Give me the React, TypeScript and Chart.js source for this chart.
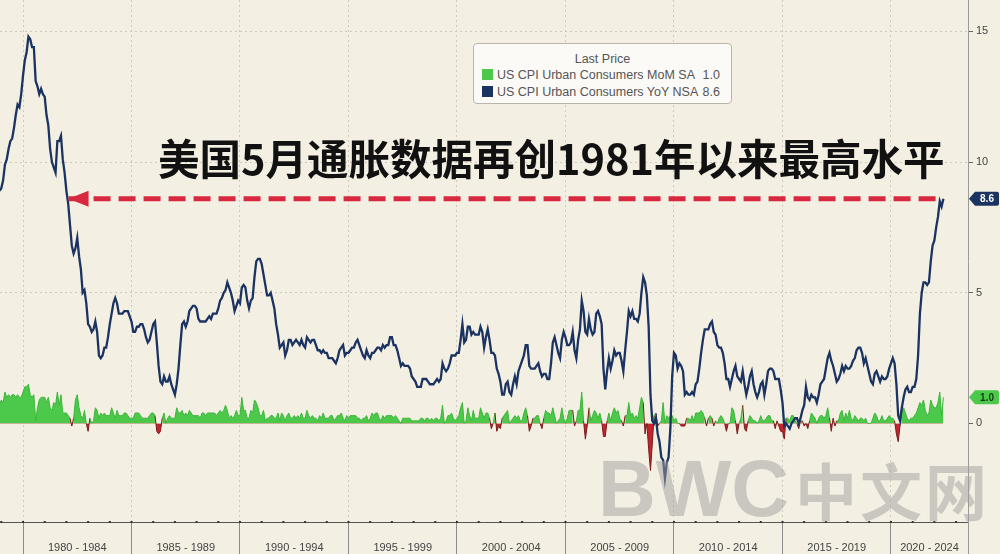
import React, { useEffect, useRef } from "react";
import { Chart, registerables } from "chart.js";

Chart.register(...registerables);

// First observation: November 1978 (values are monthly, month-end)
const FIRST_YEAR = 1978;
const FIRST_MONTH = 11;

// US CPI Urban Consumers YoY NSA (%)
const YOY_NSA: number[] = [
  // 1978 (Nov-Dec)
  8.9, 9.0,
  // 1979
  9.3, 9.9, 10.1, 10.5, 10.8, 10.9, 11.3, 11.8, 12.2, 12.1, 12.6, 13.3,
  // 1980
  13.9, 14.2, 14.8, 14.7, 14.4, 14.4, 13.1, 12.9, 12.6, 12.8, 12.6, 12.5,
  // 1981
  11.8, 11.4, 10.5, 10.0, 9.8, 9.6, 10.8, 10.8, 11.0, 10.1, 9.6, 8.9,
  // 1982
  8.4, 7.6, 6.8, 6.5, 6.7, 7.1, 6.4, 5.9, 5.0, 5.1, 4.6, 3.8,
  // 1983
  3.7, 3.5, 3.6, 3.9, 3.5, 2.6, 2.5, 2.6, 2.9, 2.9, 3.3, 3.8,
  // 1984
  4.2, 4.6, 4.8, 4.6, 4.2, 4.2, 4.2, 4.3, 4.3, 4.3, 4.1, 3.9,
  // 1985
  3.5, 3.5, 3.7, 3.7, 3.8, 3.8, 3.6, 3.3, 3.1, 3.2, 3.5, 3.8,
  // 1986
  3.9, 3.1, 2.2, 1.6, 1.5, 1.8, 1.6, 1.6, 1.8, 1.5, 1.3, 1.1,
  // 1987
  1.5, 2.1, 3.0, 3.8, 3.9, 3.7, 3.9, 4.3, 4.4, 4.5, 4.5, 4.4,
  // 1988
  4.0, 3.9, 3.9, 3.9, 3.9, 4.0, 4.1, 4.0, 4.2, 4.2, 4.2, 4.4,
  // 1989
  4.7, 4.8, 5.0, 5.1, 5.4, 5.2, 5.0, 4.7, 4.3, 4.5, 4.7, 4.6,
  // 1990
  5.2, 5.3, 5.2, 4.7, 4.4, 4.7, 4.8, 5.6, 6.2, 6.3, 6.3, 6.1,
  // 1991
  5.7, 5.3, 4.9, 4.9, 5.0, 4.7, 4.4, 3.8, 3.4, 2.9, 3.0, 3.1,
  // 1992
  2.6, 2.8, 3.2, 3.2, 3.0, 3.1, 3.2, 3.1, 3.0, 3.2, 3.0, 2.9,
  // 1993
  3.3, 3.2, 3.1, 3.2, 3.2, 3.0, 2.8, 2.8, 2.7, 2.8, 2.7, 2.7,
  // 1994
  2.5, 2.5, 2.5, 2.4, 2.3, 2.5, 2.8, 2.9, 3.0, 2.6, 2.7, 2.7,
  // 1995
  2.8, 2.9, 2.9, 3.1, 3.2, 3.0, 2.8, 2.6, 2.5, 2.8, 2.6, 2.5,
  // 1996
  2.7, 2.7, 2.8, 2.9, 2.9, 2.8, 3.0, 2.9, 3.0, 3.0, 3.3, 3.3,
  // 1997
  3.0, 3.0, 2.8, 2.5, 2.2, 2.3, 2.2, 2.2, 2.2, 2.1, 1.8, 1.7,
  // 1998
  1.6, 1.4, 1.4, 1.4, 1.7, 1.7, 1.7, 1.6, 1.5, 1.5, 1.5, 1.6,
  // 1999
  1.7, 1.6, 1.7, 2.3, 2.1, 2.0, 2.1, 2.3, 2.6, 2.6, 2.6, 2.7,
  // 2000
  2.7, 3.2, 3.8, 3.1, 3.2, 3.7, 3.7, 3.4, 3.5, 3.4, 3.4, 3.4,
  // 2001
  3.7, 3.5, 2.9, 3.3, 3.6, 3.2, 2.7, 2.7, 2.6, 2.1, 1.9, 1.6,
  // 2002
  1.1, 1.1, 1.5, 1.6, 1.2, 1.1, 1.5, 1.8, 1.5, 2.0, 2.2, 2.4,
  // 2003
  2.6, 3.0, 3.0, 2.2, 2.1, 2.1, 2.1, 2.2, 2.3, 2.0, 1.8, 1.9,
  // 2004
  1.9, 1.7, 1.7, 2.3, 3.1, 3.3, 3.0, 2.7, 2.5, 3.2, 3.5, 3.3,
  // 2005
  3.0, 3.0, 3.1, 3.5, 2.8, 2.5, 3.2, 3.6, 4.7, 4.3, 3.5, 3.4,
  // 2006
  4.0, 3.6, 3.4, 3.5, 4.2, 4.3, 4.1, 3.8, 2.1, 1.3, 2.0, 2.5,
  // 2007
  2.1, 2.4, 2.8, 2.6, 2.7, 2.7, 2.4, 2.0, 2.8, 3.5, 4.3, 4.1,
  // 2008
  4.3, 4.0, 4.0, 3.9, 4.2, 5.0, 5.6, 5.4, 4.9, 3.7, 1.1, 0.1,
  // 2009
  0.0, 0.2, -0.4, -0.7, -1.3, -1.4, -2.1, -1.5, -1.3, -0.2, 1.8, 2.7,
  // 2010
  2.6, 2.1, 2.3, 2.2, 2.0, 1.1, 1.2, 1.1, 1.1, 1.2, 1.1, 1.5,
  // 2011
  1.6, 2.1, 2.7, 3.2, 3.6, 3.6, 3.6, 3.8, 3.9, 3.5, 3.4, 3.0,
  // 2012
  2.9, 2.9, 2.7, 2.3, 1.7, 1.7, 1.4, 1.7, 2.0, 2.2, 1.8, 1.7,
  // 2013
  1.6, 2.0, 1.5, 1.1, 1.4, 1.8, 2.0, 1.5, 1.2, 1.0, 1.2, 1.5,
  // 2014
  1.6, 1.1, 1.5, 2.0, 2.1, 2.1, 2.0, 1.7, 1.7, 1.7, 1.3, 0.8,
  // 2015
  -0.1, 0.0, -0.1, -0.2, 0.0, 0.1, 0.2, 0.2, 0.0, 0.2, 0.5, 0.7,
  // 2016
  1.4, 1.0, 0.9, 1.1, 1.0, 1.0, 0.8, 1.1, 1.5, 1.6, 1.7, 2.1,
  // 2017
  2.5, 2.7, 2.4, 2.2, 1.9, 1.6, 1.7, 1.9, 2.2, 2.0, 2.2, 2.1,
  // 2018
  2.1, 2.2, 2.4, 2.5, 2.8, 2.9, 2.9, 2.7, 2.3, 2.5, 2.2, 1.9,
  // 2019
  1.6, 1.5, 1.9, 2.0, 1.8, 1.6, 1.8, 1.7, 1.7, 1.8, 2.1, 2.3,
  // 2020
  2.5, 2.3, 1.5, 0.3, 0.1, 0.6, 1.0, 1.3, 1.4, 1.2, 1.2, 1.4,
  // 2021
  1.4, 1.7, 2.6, 4.2, 5.0, 5.4, 5.4, 5.3, 5.4, 6.2, 6.8, 7.0,
  // 2022 (Jan-May)
  7.5, 7.9, 8.5, 8.3, 8.6,
];

// US CPI Urban Consumers MoM SA (%)
const MOM_SA: number[] = [
  // 1978 (Nov-Dec)
  0.7, 0.9,
  // 1979
  0.8, 1.2, 1.0, 1.1, 1.0, 1.1, 1.1, 1.0, 1.1, 1.0, 1.0, 1.2,
  // 1980
  1.4, 1.4, 1.5, 1.1, 1.0, 1.1, 0.1, 0.6, 0.9, 1.0, 1.0, 1.0,
  // 1981
  0.8, 1.0, 0.6, 0.5, 0.8, 0.7, 1.2, 0.7, 1.1, 0.4, 0.4, 0.4,
  // 1982
  0.3, 0.2, -0.1, 0.2, 0.9, 1.1, 0.6, 0.3, 0.2, 0.5, 0.0, -0.3,
  // 1983
  0.2, 0.0, 0.1, 0.6, 0.5, 0.2, 0.4, 0.3, 0.4, 0.3, 0.3, 0.3,
  // 1984
  0.6, 0.4, 0.2, 0.5, 0.3, 0.3, 0.3, 0.4, 0.4, 0.3, 0.2, 0.2,
  // 1985
  0.2, 0.4, 0.4, 0.4, 0.3, 0.2, 0.2, 0.2, 0.2, 0.3, 0.4, 0.4,
  // 1986
  0.3, -0.3, -0.4, -0.3, 0.2, 0.4, 0.0, 0.2, 0.3, 0.2, 0.2, 0.2,
  // 1987
  0.6, 0.4, 0.4, 0.5, 0.3, 0.4, 0.3, 0.5, 0.4, 0.3, 0.3, 0.3,
  // 1988
  0.3, 0.2, 0.4, 0.4, 0.3, 0.4, 0.4, 0.4, 0.4, 0.4, 0.3, 0.4,
  // 1989
  0.5, 0.4, 0.5, 0.7, 0.5, 0.2, 0.3, 0.2, 0.3, 0.5, 0.3, 0.3,
  // 1990
  1.0, 0.5, 0.5, 0.2, 0.2, 0.5, 0.4, 0.9, 0.8, 0.6, 0.3, 0.3,
  // 1991
  0.5, 0.1, 0.2, 0.2, 0.3, 0.3, 0.2, 0.2, 0.4, 0.1, 0.4, 0.3,
  // 1992
  0.1, 0.3, 0.4, 0.2, 0.2, 0.3, 0.2, 0.3, 0.2, 0.4, 0.2, 0.2,
  // 1993
  0.5, 0.3, 0.2, 0.3, 0.2, 0.2, 0.1, 0.3, 0.2, 0.4, 0.2, 0.2,
  // 1994
  0.2, 0.3, 0.3, 0.1, 0.2, 0.3, 0.3, 0.4, 0.2, 0.1, 0.3, 0.2,
  // 1995
  0.3, 0.3, 0.3, 0.3, 0.2, 0.2, 0.1, 0.2, 0.2, 0.3, 0.1, 0.2,
  // 1996
  0.4, 0.3, 0.4, 0.4, 0.2, 0.1, 0.3, 0.2, 0.3, 0.3, 0.3, 0.3,
  // 1997
  0.2, 0.3, 0.2, 0.1, 0.0, 0.2, 0.2, 0.2, 0.2, 0.2, 0.1, 0.1,
  // 1998
  0.1, 0.1, 0.1, 0.2, 0.2, 0.1, 0.2, 0.2, 0.1, 0.2, 0.1, 0.2,
  // 1999
  0.2, 0.1, 0.2, 0.7, 0.0, 0.1, 0.3, 0.3, 0.4, 0.2, 0.1, 0.2,
  // 2000
  0.3, 0.6, 0.8, 0.0, 0.1, 0.6, 0.3, 0.1, 0.5, 0.2, 0.2, 0.2,
  // 2001
  0.6, 0.4, 0.2, 0.4, 0.4, 0.2, -0.2, 0.0, 0.4, -0.3, -0.1, -0.2,
  // 2002
  0.2, 0.3, 0.4, 0.5, 0.0, 0.1, 0.2, 0.3, 0.2, 0.3, 0.1, 0.1,
  // 2003
  0.4, 0.6, 0.3, -0.3, -0.1, 0.2, 0.2, 0.3, 0.3, 0.0, -0.2, 0.2,
  // 2004
  0.5, 0.4, 0.4, 0.3, 0.6, 0.3, 0.0, 0.1, 0.2, 0.6, 0.2, 0.0,
  // 2005
  0.2, 0.5, 0.5, 0.5, -0.1, 0.1, 0.5, 0.5, 1.2, 0.1, -0.6, -0.1,
  // 2006
  0.6, 0.1, 0.3, 0.5, 0.4, 0.2, 0.4, 0.1, -0.5, -0.5, 0.1, 0.4,
  // 2007
  0.1, 0.4, 0.6, 0.4, 0.5, 0.2, 0.1, -0.1, 0.3, 0.3, 0.8, 0.3,
  // 2008
  0.4, 0.2, 0.3, 0.2, 0.6, 1.0, 0.8, -0.4, 0.0, -1.0, -1.8, -0.8,
  // 2009
  0.3, 0.4, -0.1, 0.0, 0.1, 0.8, 0.0, 0.3, 0.2, 0.3, 0.3, 0.1,
  // 2010
  0.2, 0.0, 0.0, -0.1, -0.1, -0.1, 0.2, 0.2, 0.1, 0.3, 0.1, 0.4,
  // 2011
  0.4, 0.4, 0.5, 0.4, 0.2, -0.1, 0.2, 0.3, 0.2, -0.1, 0.1, 0.0,
  // 2012
  0.2, 0.3, 0.2, 0.0, -0.3, 0.0, 0.0, 0.6, 0.5, 0.1, -0.4, 0.0,
  // 2013
  0.2, 0.7, -0.2, -0.3, 0.1, 0.3, 0.2, 0.1, 0.1, 0.0, 0.1, 0.3,
  // 2014
  0.1, 0.1, 0.2, 0.3, 0.3, 0.1, 0.1, -0.2, 0.1, -0.1, -0.3, -0.3,
  // 2015
  -0.6, 0.2, 0.2, 0.1, 0.3, 0.3, 0.1, 0.0, -0.2, 0.1, 0.1, -0.1,
  // 2016
  0.0, -0.2, 0.1, 0.4, 0.3, 0.2, 0.0, 0.2, 0.3, 0.3, 0.2, 0.3,
  // 2017
  0.6, 0.2, -0.3, 0.2, -0.1, 0.1, 0.1, 0.4, 0.5, 0.1, 0.4, 0.2,
  // 2018
  0.5, 0.2, 0.1, 0.3, 0.2, 0.1, 0.2, 0.2, 0.1, 0.2, 0.0, 0.0,
  // 2019
  0.0, 0.2, 0.4, 0.3, 0.1, 0.1, 0.3, 0.1, 0.1, 0.2, 0.3, 0.2,
  // 2020
  0.2, 0.1, -0.4, -0.7, -0.1, 0.5, 0.6, 0.4, 0.2, 0.1, 0.2, 0.2,
  // 2021
  0.3, 0.4, 0.6, 0.8, 0.7, 0.9, 0.5, 0.3, 0.4, 0.9, 0.7, 0.6,
  // 2022 (Jan-May)
  0.6, 0.8, 1.2, 0.3, 1.0,
];

const PERIOD_STARTS = [1980, 1985, 1990, 1995, 2000, 2005, 2010, 2015, 2020];
const Y_TICKS = [0, 5, 10, 15];

const X_MIN = 1978.94;
const X_MAX = 2023.55;
const Y_MIN = -3.77;
const Y_MAX = 16.2;

// dashed "same level" arrow
const ARROW_LEVEL = 8.6;
const ARROW_TIP_YEAR = 1982.1;
const ARROW_END_YEAR = 2022.35;

const LEGEND_TITLE = "Last Price";
const SERIES_NAMES = ["US CPI Urban Consumers MoM SA", "US CPI Urban Consumers YoY NSA"];
const HEADLINE = "美国5月通胀数据再创1981年以来最高水平";
const WATERMARK_LATIN = "BWC";
const WATERMARK_CJK = "中文网";

const NAVY = "#1b3361";
const GREEN = "#4cc84a";
const GREEN_LINE = "#3cb53c";
const NEG_RED = "#c3242f";
const ARROW_RED = "#d8283f";
const BG = "#f4efe3";
const GRID = "#cfc9bb";

const toPoints = (values: number[]) =>
  values.map((v, i) => ({ x: FIRST_YEAR + (FIRST_MONTH + i) / 12, y: v }));

const periodLabel = (v: number) => {
  const start = Math.floor(v / 5) * 5;
  return `${start} - ${start + 4}`;
};

const isBoundary = (v: number) => PERIOD_STARTS.includes(v);

const labelCenters = PERIOD_STARTS.map(
  (s) => (Math.max(s, X_MIN) + Math.min(s + 5, X_MAX)) / 2
);

function drawTag(ctx: CanvasRenderingContext2D, left: number, y: number, fill: string, color: string, text: string) {
  const h = 14;
  const tip = left;
  const body = left + 6;
  const right = left + 30;
  ctx.save();
  ctx.fillStyle = fill;
  ctx.beginPath();
  ctx.moveTo(tip, y);
  ctx.lineTo(body, y - h / 2);
  ctx.lineTo(right - 2, y - h / 2);
  ctx.quadraticCurveTo(right, y - h / 2, right, y - h / 2 + 2);
  ctx.lineTo(right, y + h / 2 - 2);
  ctx.quadraticCurveTo(right, y + h / 2, right - 2, y + h / 2);
  ctx.lineTo(body, y + h / 2);
  ctx.closePath();
  ctx.fill();
  ctx.fillStyle = color;
  ctx.font = "bold 10px 'Liberation Sans', sans-serif";
  ctx.textAlign = "center";
  ctx.textBaseline = "middle";
  ctx.fillText(text, (body + right) / 2, y + 0.5);
  ctx.restore();
}

const decorPlugin = {
  id: "decor",
  afterDatasetsDraw(chart: any) {
    const { ctx, scales } = chart;
    const x = scales.x;
    const y = scales.y;
    const tipX = x.getPixelForValue(ARROW_TIP_YEAR);
    const ay = y.getPixelForValue(ARROW_LEVEL);
    ctx.save();
    ctx.fillStyle = ARROW_RED;
    ctx.beginPath();
    ctx.moveTo(tipX, ay);
    ctx.lineTo(tipX + 20, ay - 8);
    ctx.lineTo(tipX + 20, ay + 8);
    ctx.closePath();
    ctx.fill();
    ctx.restore();
  },
  afterDraw(chart: any) {
    const { ctx, scales, chartArea } = chart;
    const x = scales.x;
    const y = scales.y;
    ctx.save();
    ctx.fillStyle = "#333";
    for (let yr = Math.ceil(X_MIN); yr <= X_MAX; yr++) {
      const px = x.getPixelForValue(yr);
      ctx.fillRect(px - 1, chartArea.bottom - 1, 2, 2);
    }
    // right axis line continues to the bottom
    ctx.strokeStyle = "#9a9a9a";
    ctx.lineWidth = 1;
    ctx.beginPath();
    ctx.moveTo(chartArea.right + 0.5, chartArea.bottom);
    ctx.lineTo(chartArea.right + 0.5, chart.height);
    ctx.stroke();
    ctx.restore();
    const lastYoY = YOY_NSA[YOY_NSA.length - 1];
    const lastMoM = MOM_SA[MOM_SA.length - 1];
    drawTag(ctx, chartArea.right + 1, y.getPixelForValue(lastYoY), NAVY, "#ffffff", lastYoY.toFixed(1));
    drawTag(ctx, chartArea.right + 1, y.getPixelForValue(lastMoM), GREEN, "#0f3d12", lastMoM.toFixed(1));
  },
};

export default function App() {
  const canvasRef = useRef<HTMLCanvasElement | null>(null);

  useEffect(() => {
    if (!canvasRef.current) return;
    const chart = new Chart(canvasRef.current, {
      type: "line",
      data: {
        datasets: [
          {
            label: "arrow",
            data: [
              { x: ARROW_TIP_YEAR, y: ARROW_LEVEL },
              { x: ARROW_END_YEAR, y: ARROW_LEVEL },
            ],
            borderColor: ARROW_RED,
            borderWidth: 5,
            borderDash: [17, 8],
            borderCapStyle: "butt",
            pointRadius: 0,
            fill: false,
          },
          {
            label: SERIES_NAMES[1],
            data: toPoints(YOY_NSA),
            borderColor: NAVY,
            borderWidth: 2.3,
            pointRadius: 0,
            tension: 0,
            fill: false,
          },
          {
            label: SERIES_NAMES[0],
            data: toPoints(MOM_SA),
            borderColor: GREEN_LINE,
            borderWidth: 1,
            pointRadius: 0,
            tension: 0,
            fill: { target: "origin", above: GREEN, below: NEG_RED },
            segment: {
              borderColor: (c: any) =>
                c.p0.parsed.y < 0 || c.p1.parsed.y < 0 ? "#7a1a1a" : GREEN_LINE,
            },
          },
        ],
      },
      options: {
        animation: false,
        responsive: false,
        devicePixelRatio: 1,
        events: [],
        layout: { padding: 0 },
        plugins: {
          legend: { display: false },
          tooltip: { enabled: false },
        },
        scales: {
          x: {
            type: "linear",
            position: "bottom",
            min: X_MIN,
            max: X_MAX,
            afterBuildTicks: (s: any) => {
              s.ticks = [...PERIOD_STARTS, ...labelCenters]
                .sort((a, b) => a - b)
                .map((v) => ({ value: v }));
            },
            afterFit: (s: any) => {
              s.height = 32;
              s.paddingLeft = 0;
              s.paddingRight = 0;
            },
            grid: {
              color: (c: any) => (c.tick && isBoundary(c.tick.value) ? GRID : "rgba(0,0,0,0)"),
              tickColor: (c: any) => (c.tick && isBoundary(c.tick.value) ? "#8c8c8c" : "rgba(0,0,0,0)"),
              tickLength: 32,
              tickBorderDash: [],
              lineWidth: 1,
            },
            border: { display: true, color: "#555", width: 1, dash: [2, 3] },
            ticks: {
              autoSkip: false,
              maxRotation: 0,
              minRotation: 0,
              padding: -13,
              color: "#444",
              font: { family: "'Liberation Sans', sans-serif", size: 11 },
              callback: (v: any) => (isBoundary(Number(v)) ? "" : periodLabel(Number(v))),
            },
          },
          y: {
            type: "linear",
            position: "right",
            min: Y_MIN,
            max: Y_MAX,
            afterBuildTicks: (s: any) => {
              s.ticks = Y_TICKS.map((v) => ({ value: v }));
            },
            afterFit: (s: any) => {
              s.width = 32;
              s.paddingTop = 0;
              s.paddingBottom = 0;
            },
            grid: {
              color: (c: any) => (c.tick && c.tick.value !== 0 ? GRID : "rgba(0,0,0,0)"),
              tickColor: "#666",
              tickLength: 5,
              tickBorderDash: [],
            },
            border: { display: true, color: "#9a9a9a", width: 1, dash: [2, 3] },
            ticks: {
              padding: 3,
              color: "#444",
              font: { family: "'Liberation Sans', sans-serif", size: 11 },
              callback: (v: any) => String(v),
            },
          },
        },
      },
      plugins: [decorPlugin],
    } as any);
    return () => chart.destroy();
  }, []);

  const lastMoM = MOM_SA[MOM_SA.length - 1];
  const lastYoY = YOY_NSA[YOY_NSA.length - 1];

  return (
    <div
      style={{
        position: "absolute",
        left: 0,
        top: 0,
        width: 1000,
        height: 554,
        background: BG,
        overflow: "hidden",
      }}
    >
      <canvas ref={canvasRef} width={1000} height={554} style={{ display: "block", position: "absolute", left: 0, top: 0 }} />
      <div
        style={{
          position: "absolute",
          left: 473,
          top: 43,
          width: 259,
          height: 61,
          boxSizing: "border-box",
          background: "#fbfaf6",
          border: "1px solid #b9b5ab",
          borderRadius: 4,
          fontFamily: "'Liberation Sans', sans-serif",
          fontSize: 12.5,
          color: "#555",
        }}
      >
        <div style={{ textAlign: "center", marginTop: 8, lineHeight: "14px" }}>{LEGEND_TITLE}</div>
        {[
          { c: GREEN, name: SERIES_NAMES[0], v: lastMoM },
          { c: NAVY, name: SERIES_NAMES[1], v: lastYoY },
        ].map((r) => (
          <div key={r.name} style={{ display: "flex", alignItems: "center", height: 17, paddingLeft: 8, paddingRight: 11 }}>
            <div style={{ width: 11, height: 11, background: r.c, marginRight: 4, flex: "none" }} />
            <div style={{ flex: 1, whiteSpace: "nowrap" }}>{r.name}</div>
            <div>{r.v.toFixed(1)}</div>
          </div>
        ))}
      </div>
      <div
        style={{
          position: "absolute",
          left: 158,
          top: 132,
          fontFamily: "'Noto Sans CJK SC', sans-serif",
          fontWeight: 700,
          fontSize: 41.5,
          lineHeight: "50px",
          color: "#111",
          whiteSpace: "nowrap",
        }}
      >
        {HEADLINE}
      </div>
      <div
        style={{
          position: "absolute",
          left: 598,
          top: 448,
          whiteSpace: "nowrap",
          lineHeight: "82px",
          color: "rgba(160,160,160,0.5)",
          fontWeight: 700,
          pointerEvents: "none",
        }}
      >
        <span style={{ fontFamily: "'Liberation Sans', sans-serif", fontSize: 80 }}>{WATERMARK_LATIN}</span>
        <span style={{ fontFamily: "'Noto Sans CJK SC', sans-serif", fontSize: 62, letterSpacing: 3, marginLeft: 6 }}>{WATERMARK_CJK}</span>
      </div>
    </div>
  );
}
